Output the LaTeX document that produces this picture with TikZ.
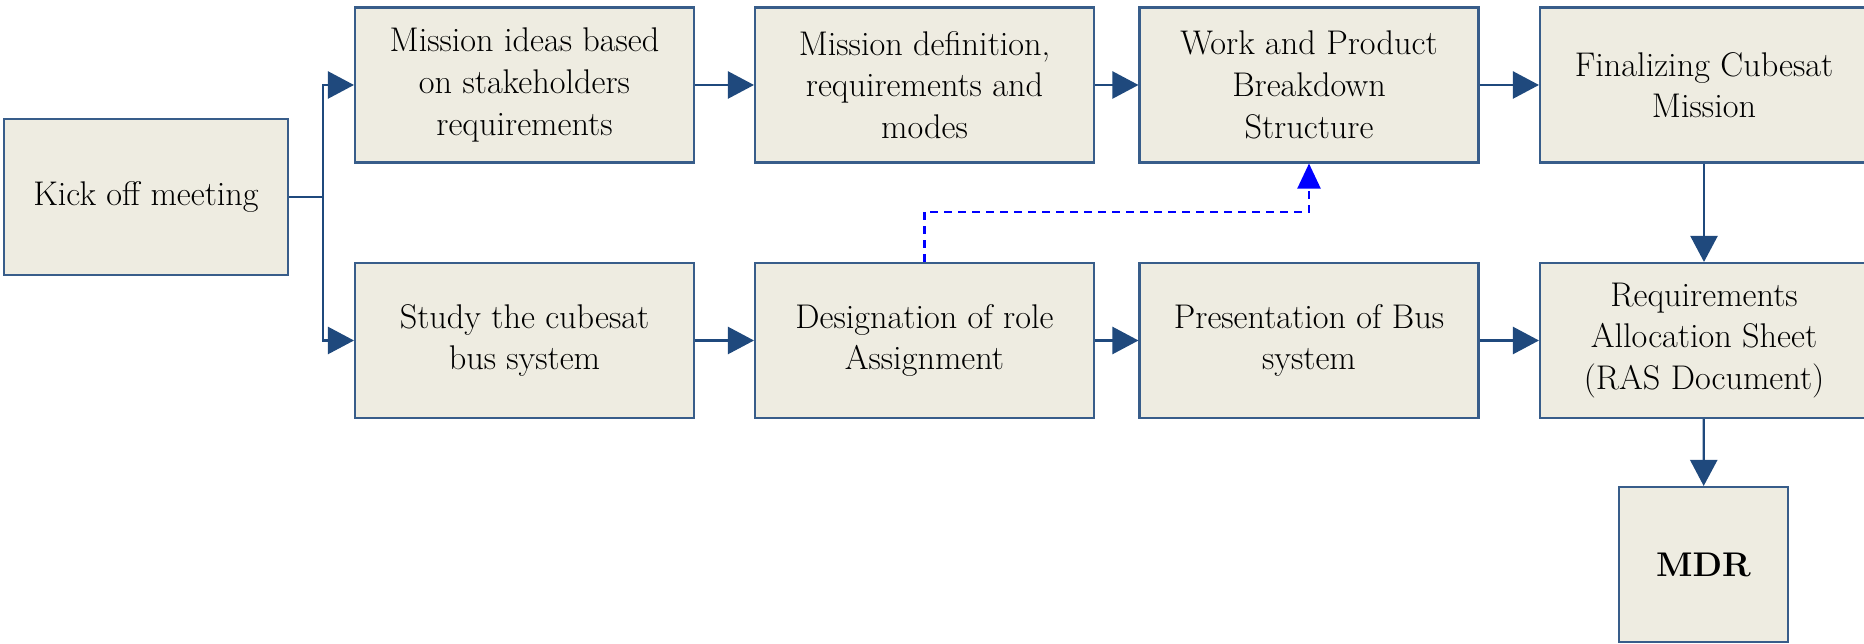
\documentclass[tikz,border=0pt]{standalone}
\usepackage{fontspec}
\usepackage{tikz}
\usetikzlibrary{arrows.meta}
\usetikzlibrary{positioning}
\definecolor{boxfill}{HTML}{EEECE1}
\definecolor{boxline}{HTML}{385D8A}
\definecolor{arrowblue}{HTML}{1F497D}
\tikzstyle{box}=[draw=boxline,fill=boxfill,line width=1.2pt,align=center,minimum width=6.78cm,minimum height=3.1cm,inner sep=2pt,font=\fontsize{19.5}{23.7}\selectfont]
\tikzstyle{conn}=[draw=arrowblue,line width=1.3pt,-{Triangle[length=0.52cm,width=0.54cm]}]
\tikzstyle{link}=[draw=blue,line width=1.2pt,dash pattern=on 0.16cm off 0.12cm,-{Triangle[length=0.5cm,width=0.46cm]}]

\begin{document}
\begin{tikzpicture}[x=0.02cm,y=-0.02cm]
\useasboundingbox (0,0) rectangle (1864,644);
% top row
\node [box,minimum width=5.68cm,minimum height=3.12cm] (kick) at (146,197) {Kick off meeting};
\node [box] (ideas) at (524.5,85) {Mission ideas based\\on stakeholders\\requirements};
\node [box] (def) at (924.5,85) {Mission definition,\\requirements and\\modes};
\node [box] (wbs) at (1309,85) {Work and Product\\Breakdown\\Structure};
\node [box,minimum width=6.56cm] (final) at (1704,85) {Finalizing Cubesat\\Mission};
% bottom row
\node [box] (study) at (524.5,340.5) {Study the cubesat\\bus system};
\node [box] (role) at (924.5,340.5) {Designation of role\\Assignment};
\node [box] (bus) at (1309,340.5) {Presentation of Bus\\system};
\node [box,minimum width=6.56cm] (ras) at (1704,340.5) {Requirements\\Allocation Sheet\\(RAS Document)};
\node [box,minimum width=3.38cm] (mdr) at (1703.5,564.5) {\textbf{MDR}};

\draw[conn] (kick.east) -- ++(34,0) |- (ideas.west);
\draw[conn] (kick.east) -- ++(34,0) |- (study.west);
\draw[conn] (ideas) -- (def);
\draw[conn] (def) -- (wbs);
\draw[conn] (wbs) -- (final);
\draw[conn] (study) -- (role);
\draw[conn] (role) -- (bus);
\draw[conn] (bus) -- (ras);
\draw[conn] (final) -- (ras);
\draw[conn] (ras) -- (mdr);
%\draw[link] (role.north) |- (wbs.south);
\draw[link] (role.north) -- ++(0,-50) -| (wbs.south);
\end{tikzpicture}
\end{document}
